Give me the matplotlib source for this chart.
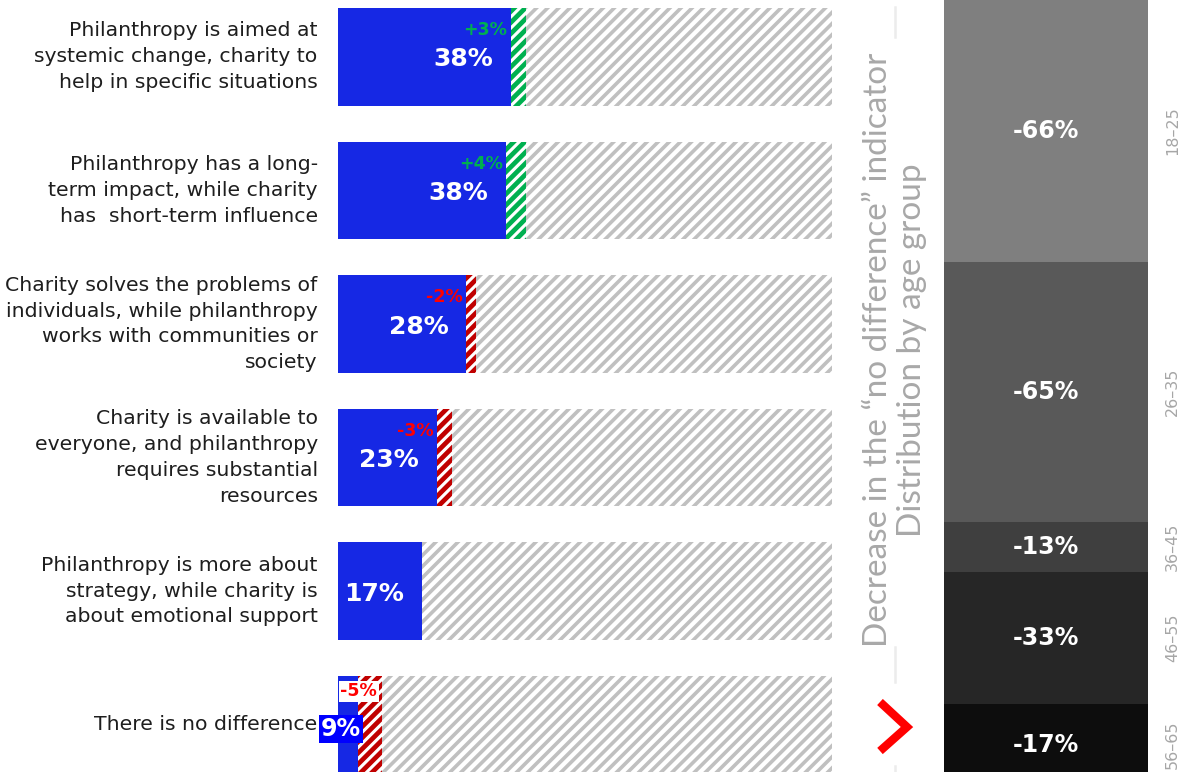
import numpy as np
import matplotlib
matplotlib.use("Agg")
import matplotlib.pyplot as plt

plt.rcParams['font.family'] = ['DejaVu Sans']

# statements, share in %, change vs. previous wave (p.p.)
statements = ["Philanthropy is aimed at\nsystemic change, charity to\nhelp in specific situations",
              "Philanthropy has a long-\nterm impact, while charity\nhas  short-term influence",
              "Charity solves the problems of\nindividuals, while philanthropy\nworks with communities or\nsociety",
              "Charity is available to\neveryone, and philanthropy\nrequires substantial\nresources",
              "Philanthropy is more about\nstrategy, while charity is\nabout emotional support",
              "There is no difference"]
shares = [38, 38, 28, 23, 17, 9]
changes = [3, 4, -2, -3, 0, -5]

# right panel: decrease of "no difference" by age group
age_groups = ["18–25", "26–35", "36–45", "46–55", "56–65"]
age_decrease = ["-66%", "-65%", "-13%", "-33%", "-17%"]
age_weight = [262, 260, 50, 132, 82]
age_colors = ["#7f7f7f", "#595959", "#3f3f3f", "#262626", "#0d0d0d"]

BLUE = "#1628e4"
GREEN = "#00b050"
DARKRED = "#c00000"
RED = "#ff0000"
HATCH_GREY = "#c0c0c0"

W, H = 1178, 772
fig = plt.figure(figsize=(W / 100, H / 100), dpi=100)

# ---------- main bars ----------
ax = fig.add_axes([338 / W, 0, 494 / W, 1])
ax.set_xlim(0, 100)
pitch = 133.6
ax.set_ylim((H - 56.75) / pitch, -56.75 / pitch)
ax.axis('off')
bh = 97.5 / pitch

for i, (txt, val, chg) in enumerate(zip(statements, shares, changes)):
    base = val - abs(chg)
    # remaining part up to 100%
    p = ax.barh(i, 100 - val, left=val, height=bh, facecolor='white', edgecolor=HATCH_GREY,
                linewidth=0, hatch='///')[0]
    p.set_hatch_linewidth(2.6)
    ax.barh(i, base, left=0, height=bh, color=BLUE, linewidth=0)
    if chg != 0:
        col = GREEN if chg > 0 else DARKRED
        p = ax.barh(i, abs(chg), left=base, height=bh, facecolor='white', edgecolor=col,
                    linewidth=0, hatch='///')[0]
        p.set_hatch_linewidth(3.4)
    # statement text
    ax.text(-4.1, i, txt, ha='right', va='center', fontsize=14.7, color='#1e1e1e',
            linespacing=1.45)
    sign = "+" if chg > 0 else ""
    if i < len(shares) - 1:
        ax.text(base - 3.6, i + 0.02, f"{val}%", ha='right', va='center', fontsize=18,
                fontweight='bold', color='white')
        if chg != 0:
            ax.text(base - 0.7, i - 0.2, f"{sign}{chg}%", ha='right', va='center',
                    fontsize=12.5, fontweight='bold', color=GREEN if chg > 0 else RED)
    else:
        ax.text(0.6, i + 0.03, f"{val}%", ha='center', va='center', fontsize=17,
                fontweight='bold', color='white',
                bbox=dict(boxstyle='square,pad=0.08', fc='#0000ff', ec='none'))
        ax.text(4.2, i - 0.25, f"{sign}{chg}%", ha='center', va='center',
                fontsize=12.5, fontweight='bold', color=RED,
                bbox=dict(boxstyle='square,pad=0.1', fc='white', ec='none'))

# ---------- right panel ----------
ax2 = fig.add_axes([944 / W, 0, 204 / W, 1])
ax2.set_xlim(0, 1)
ax2.set_ylim(H, 0)
ax2.axis('off')
bottom = 0
for grp, dec, w, c in zip(age_groups, age_decrease, age_weight, age_colors):
    ax2.bar(0.5, w, bottom=bottom, width=1, color=c, linewidth=0)
    mid = bottom + w / 2
    ax2.text(0.5, mid, dec, ha='center', va='center', fontsize=17, fontweight='bold',
             color='white')
    ax2.text(1.12, mid, grp, ha='center', va='center', rotation=90, fontsize=11.5,
             color='#a6a6a6', clip_on=False)
    bottom += w

# ---------- rotated title, decorations ----------
for y0, y1 in [(7, 37), (647, 682), (766, 772)]:
    fig.add_artist(plt.Line2D([895 / W, 895 / W], [1 - y0 / H, 1 - y1 / H],
                              color='#ececec', lw=1.8))
fig.text(895 / W, 1 - 350 / H,
         "Decrease in the \u201cno difference\u201d indicator\nDistribution by age group",
         rotation=90, ha='center', va='center', multialignment='center',
         fontsize=24, color='#a8a8a8', family=['Lato', 'DejaVu Sans'], fontweight='normal',
         linespacing=1.2)
chev_x = np.array([880, 907, 880]) / W
chev_y = 1 - np.array([702, 727, 751]) / H
fig.add_artist(plt.Line2D(chev_x, chev_y, color='#ff0000', lw=6, solid_joinstyle='miter',
                          solid_capstyle='butt'))

fig.savefig("out.png", dpi=100)
